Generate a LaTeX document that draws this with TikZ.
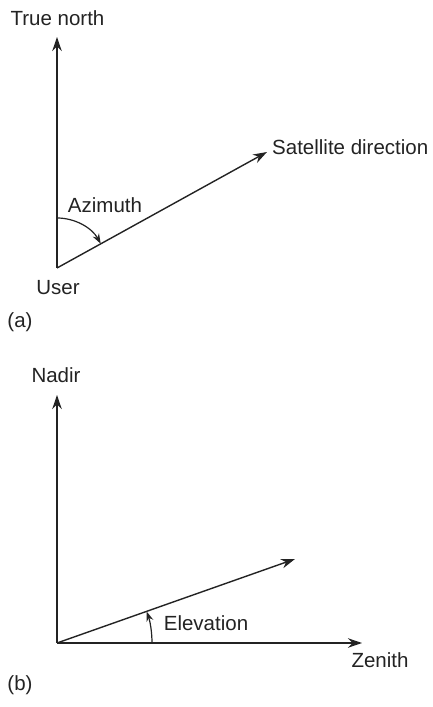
\documentclass[tikz,border=0pt]{standalone}
\usepackage{fontspec}
\setmainfont{Liberation Sans}
\usepackage{xcolor}
\definecolor{inkgray}{RGB}{35,35,35}
\usetikzlibrary{arrows.meta,positioning,calc}

\begin{document}
\begin{tikzpicture}[
  x=1pt, y=1pt,
  lbl/.style={font=\fontsize{20.5}{23}\selectfont, text=inkgray, inner sep=0pt},
  arr/.style={-{Stealth[length=14pt, width=9.5pt]}, line width=1.4pt, draw=inkgray},
  angarr/.style={-{Stealth[length=10pt, width=7pt]}, line width=1.2pt, draw=inkgray}
]
\useasboundingbox (0,0) rectangle (432,707);

% (a) azimuth
\coordinate (user)  at (57,439);
\coordinate (north) at (57,670);
\coordinate (sat)   at (267,555);

\draw[arr] (user) -- (north);
\draw[arr] (user) -- (sat);
\draw[angarr] ([shift={(90:50)}]user) arc[start angle=90, end angle=29, radius=50];

\node[lbl] (northlbl) at (57.5,689) {True north};
\node[lbl, anchor=west] (satlbl) at (272,560) {Satellite direction};
\node[lbl] (azlbl) at (105,502) {Azimuth};
\node[lbl] (userlbl) at (58,419) {User};
\node[lbl] (alabel) at (20,385) {(a)};

% (b) elevation
\coordinate (base)   at (57,64);
\coordinate (nadir)  at (57,312);
\coordinate (zenith) at (362,64);
\coordinate (elev)   at (295,148);

\draw[arr] (base) -- (nadir);
\draw[arr] (base) -- (zenith);
\draw[arr] (base) -- (elev);
\draw[angarr] ([shift={(0:95)}]base) arc[start angle=0, end angle=19.4, radius=95];

\node[lbl] (nadirlbl) at (56,332) {Nadir};
\node[lbl] (elevlbl) at (206,84) {Elevation};
\node[lbl] (zenithlbl) at (380,47) {Zenith};
\node[lbl] (blabel) at (20,22) {(b)};
\end{tikzpicture}
\end{document}
